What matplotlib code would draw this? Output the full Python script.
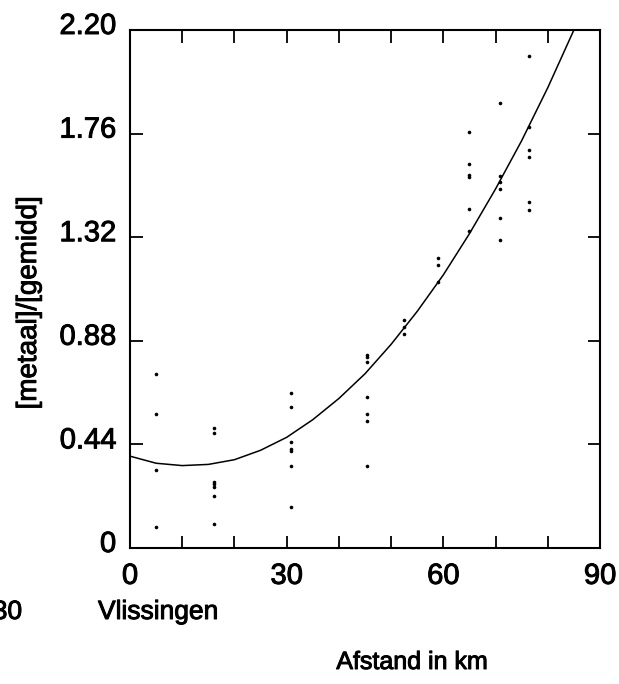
import matplotlib
matplotlib.use("Agg")
import matplotlib.pyplot as plt
import matplotlib.patheffects as pe
from matplotlib.transforms import ScaledTranslation

# meetpunten: afstand (km) en [metaal]/[gemidd]
afstand = [5, 5, 5, 5,
           16, 16, 16, 16, 16, 16, 16,
           30.8, 30.8, 30.8, 30.8, 30.8, 30.8, 30.8,
           45.4, 45.4, 45.4, 45.4, 45.4, 45.4, 45.4,
           52.4, 52.4, 52.4,
           59, 59, 59,
           65, 65, 65, 65, 65, 65,
           70.9, 70.9, 70.9, 70.9, 70.9, 70.9,
           76.4, 76.4, 76.4, 76.4, 76.4, 76.4]
ratio = [0.74, 0.57, 0.33, 0.09,
         0.51, 0.49, 0.28, 0.27, 0.26, 0.22, 0.10,
         0.66, 0.60, 0.45, 0.42, 0.41, 0.35, 0.175,
         0.82, 0.81, 0.79, 0.64, 0.57, 0.54, 0.35,
         0.97, 0.94, 0.91,
         1.23, 1.20, 1.13,
         1.765, 1.63, 1.585, 1.575, 1.44, 1.345,
         1.89, 1.58, 1.555, 1.525, 1.40, 1.31,
         2.09, 1.79, 1.69, 1.66, 1.47, 1.435]

curve_x = [0, 5, 10, 15, 20, 25, 30, 35, 40, 45, 50, 55, 60, 65, 70, 75, 80, 85]
curve_y = [0.39, 0.36, 0.35, 0.355, 0.375, 0.415, 0.47, 0.545, 0.635, 0.74,
           0.865, 1.005, 1.16, 1.335, 1.525, 1.73, 1.955, 2.20]

x_ticks = [0, 10, 20, 30, 40, 50, 60, 70, 80, 90]
x_labels = ["0", "", "", "30", "", "", "60", "", "", "90"]
y_ticks = [0, 0.44, 0.88, 1.32, 1.76, 2.20]
y_labels = ["0", "0.44", "0.88", "1.32", "1.76", "2.20"]

plt.rcParams["font.family"] = ["Liberation Sans", "DejaVu Sans"]
# iets dikker, zoals de gescande letters
thick = [pe.withStroke(linewidth=0.7, foreground="black")]

fig = plt.figure(figsize=(6.19, 6.84), dpi=100, facecolor="white")
ax = fig.add_axes([130 / 619, 136 / 684, 470 / 619, 518 / 684])

ax.plot(curve_x, curve_y, color="black", lw=1.1)
ax.plot(afstand, ratio, "o", color="black", markersize=2.6, markeredgewidth=0)

ax.set_xlim(0, 90)
ax.set_ylim(0, 2.20)
ax.set_xticks(x_ticks)
ax.set_xticklabels(x_labels)
ax.set_yticks(y_ticks)
ax.set_yticklabels(y_labels)

for s in ax.spines.values():
    s.set_linewidth(1.5)
    s.set_color("black")

ax.tick_params(direction="in", length=9, width=1.3, top=True, right=True,
               labelsize=21, colors="black")
ax.tick_params(axis="x", pad=10)
ax.tick_params(axis="y", pad=10)

for lab in ax.get_xticklabels():
    lab.set_path_effects(thick)
# labels staan in het origineel iets boven de streepjes
for lab in ax.get_yticklabels():
    lab.set_path_effects(thick)
    lab.set_transform(lab.get_transform() + ScaledTranslation(0, 0.07, fig.dpi_scale_trans))

fig.text(29 / 619, 1 - 303 / 684, "[metaal]/[gemidd]", rotation=90,
         ha="center", va="center", fontsize=20, path_effects=thick)
fig.text(22 / 619, 1 - 612 / 684, "30", ha="right", va="center", fontsize=19,
         path_effects=thick)
fig.text(98 / 619, 1 - 612 / 684, "Vlissingen", ha="left", va="center", fontsize=19,
         path_effects=thick)
fig.text(412 / 619, 1 - 662 / 684, "Afstand in km", ha="center", va="center", fontsize=18,
         path_effects=thick)

fig.savefig("out.png", dpi=100)
